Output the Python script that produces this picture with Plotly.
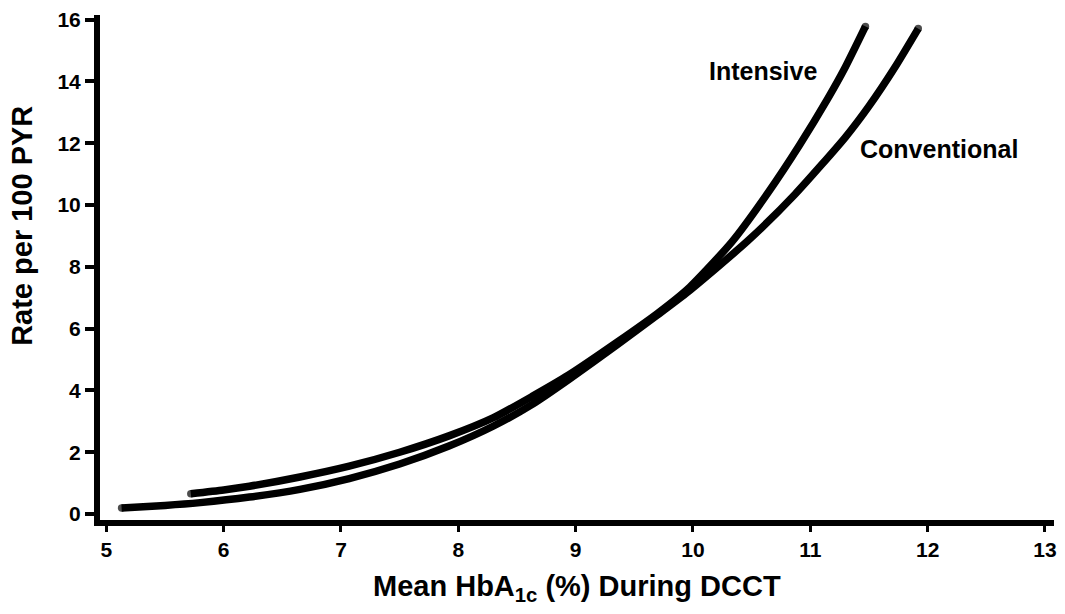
import plotly.graph_objects as go

# Data
intensive_x = [5.72, 6.0, 6.22, 6.65, 7.07, 7.5, 7.92, 8.3, 8.63, 8.94, 9.36, 9.7,
               9.96, 10.33, 10.64, 10.91, 11.15, 11.29, 11.47]
intensive_y = [0.66, 0.78, 0.9, 1.2, 1.55, 2.0, 2.53, 3.12, 3.81, 4.5, 5.58, 6.5,
               7.3, 8.8, 10.4, 11.95, 13.45, 14.4, 15.78]

conventional_x = [5.13, 5.5, 5.8, 6.22, 6.65, 7.07, 7.5, 7.92, 8.3, 8.63, 8.94, 9.36,
                  9.7, 9.96, 10.47, 10.87, 11.3, 11.5, 11.72, 11.92]
conventional_y = [0.2, 0.28, 0.37, 0.55, 0.8, 1.15, 1.62, 2.2, 2.85, 3.55, 4.35, 5.5,
                  6.45, 7.2, 8.85, 10.35, 12.2, 13.2, 14.45, 15.71]

x_ticks = [5, 6, 7, 8, 9, 10, 11, 12, 13]
y_ticks = [0, 2, 4, 6, 8, 10, 12, 14, 16]

FONT = "Liberation Sans, Arial, Helvetica, sans-serif"
LW = 7.5


def end_sizes(n, s=LW):
    return [s if i in (0, n - 1) else 0 for i in range(n)]


fig = go.Figure()
fig.add_trace(go.Scatter(
    x=conventional_x, y=conventional_y, mode="lines+markers", name="Conventional",
    line=dict(color="black", width=LW, shape="spline", smoothing=0.6),
    marker=dict(color="black", size=end_sizes(len(conventional_x)), line=dict(width=0)),
    showlegend=False, hoverinfo="skip"))
fig.add_trace(go.Scatter(
    x=intensive_x, y=intensive_y, mode="lines+markers", name="Intensive",
    line=dict(color="black", width=LW, shape="spline", smoothing=0.6),
    marker=dict(color="black", size=end_sizes(len(intensive_x)), line=dict(width=0)),
    showlegend=False, hoverinfo="skip"))

fig.add_annotation(x=10.6, y=14.33, text="Intensive", showarrow=False,
                   font=dict(family=FONT, size=25, color="black", weight="bold"))
fig.add_annotation(x=12.1, y=11.83, text="Conventional", showarrow=False,
                   font=dict(family=FONT, size=25, color="black", weight="bold"))

# Axis titles as annotations
fig.add_annotation(xref="paper", yref="paper", x=0.5, y=-0.135,
                   text="Mean HbA<sub>1c</sub> (%) During DCCT", showarrow=False,
                   xanchor="center", yanchor="middle",
                   font=dict(family=FONT, size=29, color="black", weight="bold"))
fig.add_annotation(xref="paper", yref="paper", x=-0.082, y=0.582,
                   text="Rate per 100 PYR", showarrow=False, textangle=-90,
                   xanchor="center", yanchor="middle",
                   font=dict(family=FONT, size=29, color="black", weight="bold"))

fig.update_xaxes(range=[4.946, 13.077], tickvals=x_ticks, ticktext=[str(v) for v in x_ticks],
                 showgrid=False, zeroline=False, showline=True, linecolor="black",
                 linewidth=6, ticks="outside", ticklen=6, tickwidth=3, tickcolor="black",
                 tickfont=dict(family=FONT, size=21, color="black", weight="bold"))
fig.update_yaxes(range=[-0.192, 16.15], tickvals=y_ticks, ticktext=[str(v) for v in y_ticks],
                 showgrid=False, zeroline=False, showline=True, linecolor="black",
                 linewidth=6, ticks="outside", ticklen=9, tickwidth=4, tickcolor="black",
                 tickfont=dict(family=FONT, size=21, color="black", weight="bold"))

fig.update_layout(width=1065, height=614, margin=dict(l=100, r=8, t=10, b=94),
                  plot_bgcolor="white", paper_bgcolor="white")

fig.write_html("out.html")
